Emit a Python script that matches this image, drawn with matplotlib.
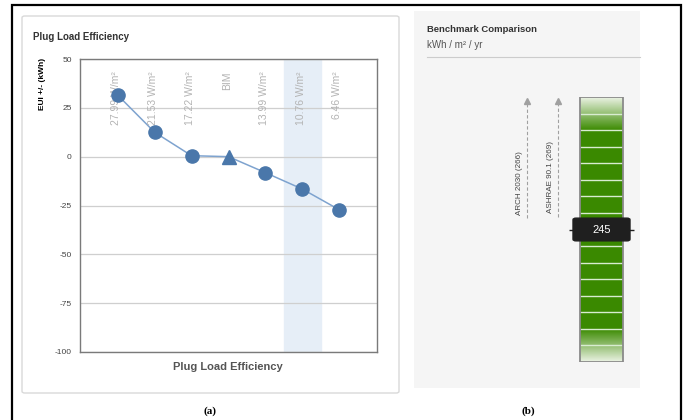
import numpy as np
import matplotlib
matplotlib.use('Agg')
import matplotlib.pyplot as plt
from matplotlib.patches import FancyBboxPatch, Rectangle
from matplotlib.lines import Line2D
import matplotlib.transforms as mtransforms

# Data for panel (a)
categories = ['27.99 W/m²', '21.53 W/m²', '17.22 W/m²', 'BIM', '13.99 W/m²', '10.76 W/m²', '6.46 W/m²']
eui_delta = [31.5, 12.5, 0.5, 0.0, -8.2, -16.6, -27.2]
markers = ['o', 'o', 'o', '^', 'o', 'o', 'o']
highlight = 5
y_ticks = [50, 25, 0, -25, -50, -75, -100]

# Data for panel (b)
bench_names = ['ARCH 2030 (266)', 'ASHRAE 90.1 (269)']
bench_values = [266, 269]
building_value = 245
gauge_min, gauge_max = 0, 490
n_segments = 16

W, H = 689, 420
plt.rcParams['font.family'] = ['Liberation Sans', 'DejaVu Sans']
fig = plt.figure(figsize=(W / 100, H / 100), dpi=100)


def box(x0, y0, x1, y1):
    # pixel box (top-left origin) -> figure fraction [l, b, w, h]
    return [x0 / W, 1 - y1 / H, (x1 - x0) / W, (y1 - y0) / H]


def pt(x, y):
    return x / W, 1 - y / H


# outer black frame (bottom runs off the picture)
l, b, w, h = box(12, 5.5, 681, 440)
fig.add_artist(Rectangle((l, b), w, h, transform=fig.transFigure, fill=False,
                         edgecolor='black', lw=1.6, zorder=5))

# cards
l, b, w, h = box(22, 16, 399, 393)
fig.add_artist(FancyBboxPatch((l, b), w, h, boxstyle='round,pad=0,rounding_size=0.004',
                              transform=fig.transFigure, facecolor='white',
                              edgecolor='#d9d9d9', lw=1.0, zorder=-2))
l, b, w, h = box(414, 11, 640, 388)
fig.add_artist(Rectangle((l, b), w, h, transform=fig.transFigure, facecolor='#f5f5f5',
                         edgecolor='none', zorder=-2))

# ---------------- panel (a) ----------------
ax = fig.add_axes(box(80, 59, 377, 352))
x = np.arange(len(categories))
ax.axvspan(highlight - 0.5, highlight + 0.5, color='#e6eef7', zorder=0)
for v in y_ticks:
    ax.axhline(v, color='#cfcfcf', lw=0.9, zorder=1)
ax.plot(x, eui_delta, color='#7ea3cf', lw=1.1, zorder=2)
for xi, yi, m in zip(x, eui_delta, markers):
    ax.plot(xi, yi, marker=m, ms=9.5 if m == 'o' else 10, color='#4a77aa',
            mec='#4a77aa', zorder=3)
trans = mtransforms.blended_transform_factory(ax.transData, ax.transAxes)
for xi, lab in zip(x, categories):
    ax.text(xi - 0.05, 0.958, lab, rotation=90, ha='center', va='top', transform=trans,
            fontsize=7.5, color='#b3b3b3', zorder=2)
ax.set_xlim(-1.02, len(categories) + 0.02)
ax.set_ylim(-100, 50)
ax.set_yticks(y_ticks)
ax.set_yticklabels([str(v) for v in y_ticks], fontsize=6, color='#444444')
ax.set_xticks([])
ax.tick_params(axis='y', length=0, pad=6)
for s in ax.spines.values():
    s.set_color('#7a7a7a')
    s.set_linewidth(1.0)

fig.text(*pt(33, 37), 'Plug Load Efficiency', fontsize=7, fontweight='bold',
         color='#333333', va='center', ha='left', stretch='condensed')
fig.text(*pt(42, 58), 'EUI +/- (kWh)', fontsize=6, fontweight='bold', color='black',
         rotation=90, va='top', ha='center')
fig.text(*pt(228, 367), 'Plug Load Efficiency', fontsize=8, fontweight='bold',
         color='#555555', va='center', ha='center')

# ---------------- panel (b) ----------------
fig.text(*pt(427, 30), 'Benchmark Comparison', fontsize=6.8, fontweight='bold',
         color='#333333', va='center', ha='left')
fig.text(*pt(427, 45), 'kWh / m² / yr', fontsize=7, color='#555555', va='center', ha='left')
fig.add_artist(Line2D([427 / W, 640 / W], [1 - 57 / H] * 2, transform=fig.transFigure,
                      color='#cccccc', lw=0.8))

gx = fig.add_axes(box(415, 97, 640, 362))
gx.set_xlim(0, 225)
gx.set_ylim(gauge_min, gauge_max)
gx.axis('off')
gx.patch.set_alpha(0)

bar_x0, bar_x1 = 165, 208
seg = (gauge_max - gauge_min) / n_segments
edges = np.linspace(gauge_min, gauge_max, n_segments + 1)
# gradient fill: light at both ends, solid green in the middle
yy = np.linspace(gauge_min, gauge_max, 400)
t = np.clip(np.minimum(yy - gauge_min, gauge_max - yy) / (2 * seg), 0, 1)
light = np.array([0.92, 0.95, 0.89])
green = np.array([0.23, 0.54, 0.0])
cols = light[None, :] * (1 - t[:, None]) + green[None, :] * t[:, None]
gx.imshow(cols[:, None, :], extent=(bar_x0, bar_x1, gauge_min, gauge_max),
          origin='lower', aspect='auto', zorder=1)
gx.hlines(edges[1:-1], bar_x0, bar_x1, color='#d8ecd0', lw=1.0, zorder=2)
gx.add_patch(Rectangle((bar_x0, gauge_min), bar_x1 - bar_x0, gauge_max - gauge_min,
                       fill=False, edgecolor='#8a8a8a', lw=1.3, zorder=3))

arrow_x = [112, 143]
for ax_x, name, val in zip(arrow_x, bench_names, bench_values):
    gx.plot([ax_x, ax_x], [val, gauge_max - 8], ls=(0, (3, 2)), color='#a0a0a0', lw=0.8, zorder=2)
    gx.plot(ax_x, gauge_max - 8, marker='^', ms=4, color='#a0a0a0', zorder=2)
    gx.text(ax_x - 7.5, val + 6, name, rotation=90, ha='center', va='bottom',
            fontsize=5.8, color='#444444')

bh = 42
gx.hlines(building_value, bar_x0 - 11, bar_x1 + 11, color='#222222', lw=1.0, zorder=4)
gx.add_patch(FancyBboxPatch((bar_x0 - 7, building_value - bh / 2), bar_x1 - bar_x0 + 14, bh,
                            boxstyle='round,pad=0,rounding_size=3', facecolor='#1f1f1f',
                            edgecolor='#1f1f1f', zorder=5, clip_on=False))
gx.text((bar_x0 + bar_x1) / 2, building_value, str(building_value), ha='center', va='center',
        fontsize=8, color='white', zorder=6)

# captions
fig.text(*pt(210, 411), '(a)', fontsize=8, family=['Liberation Serif', 'DejaVu Serif'],
         fontweight='bold', ha='center', va='center')
fig.text(*pt(528, 411), '(b)', fontsize=8, family=['Liberation Serif', 'DejaVu Serif'],
         fontweight='bold', ha='center', va='center')

fig.savefig('out.png', dpi=100)
